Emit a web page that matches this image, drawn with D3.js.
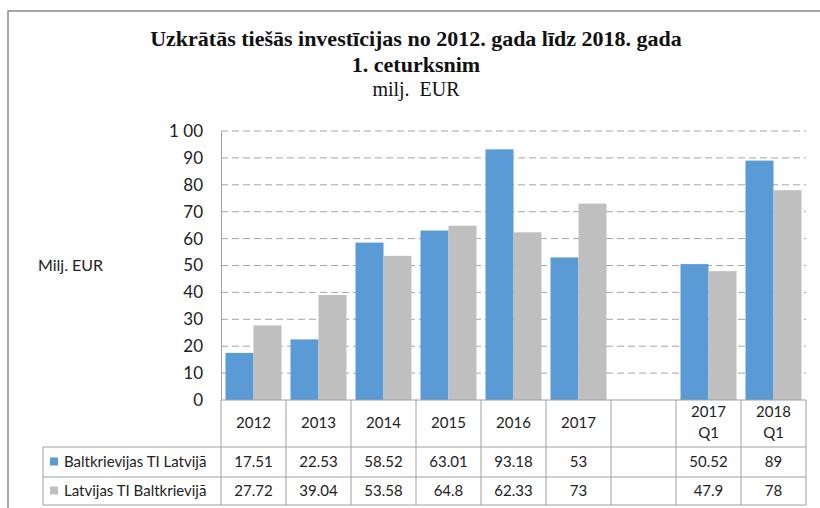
<!DOCTYPE html>
<html>
<head>
<meta charset="utf-8">
<script src="https://cdn.jsdelivr.net/npm/d3@7"></script>
<style>
  body { margin: 0; background: #fff; }
</style>
</head>
<body>
<div id="chart"></div>
<script>
var categories = ["2012", "2013", "2014", "2015", "2016", "2017", "", "2017 Q1", "2018 Q1"];
var seriesNames = ["Baltkrievijas TI Latvijā", "Latvijas TI Baltkrievijā"];
var baltValues = [17.51, 22.53, 58.52, 63.01, 93.18, 53, null, 50.52, 89];
var latvValues = [27.72, 39.04, 53.58, 64.8, 62.33, 73, null, 47.9, 78];
var yTicks = [0, 10, 20, 30, 40, 50, 60, 70, 80, 90, 100];
var yTickLabels = ["0", "10", "20", "30", "40", "50", "60", "70", "80", "90", "1 00"];

var colors = ["#5b9bd5", "#bfbfbf"];
var width = 820, height = 508;
var plotLeft = 221, plotRight = 806, plotTop = 131, plotBottom = 400;
var legendLeft = 43;
var rowTops = [400, 447, 477, 505];
var sans = "Lato, 'Open Sans', sans-serif";
var serif = "'Liberation Serif', 'Times New Roman', serif";

var svg = d3.select("#chart").append("svg")
    .attr("width", width)
    .attr("height", height);

// outer frame
svg.append("rect")
    .attr("x", 8).attr("y", 11)
    .attr("width", 830).attr("height", 520)
    .attr("fill", "none")
    .attr("stroke", "#8c8c8c")
    .attr("stroke-width", 1.5);

// titles
var titles = [
    {t: "Uzkrātās tiešās investīcijas no 2012. gada līdz 2018. gada", y: 46, w: "bold", s: 22},
    {t: "1. ceturksnim", y: 72, w: "bold", s: 22},
    {t: "milj.  EUR", y: 96, w: "normal", s: 20}
];
svg.selectAll("text.title")
    .data(titles)
    .enter().append("text")
    .attr("class", "title")
    .attr("x", 416)
    .attr("y", function(d) { return d.y; })
    .attr("text-anchor", "middle")
    .attr("font-family", serif)
    .attr("font-weight", function(d) { return d.w; })
    .attr("font-size", function(d) { return d.s; })
    .attr("fill", "#111")
    .style("white-space", "pre")
    .text(function(d) { return d.t; });

var y = d3.scaleLinear().domain([0, 100]).range([plotBottom, plotTop]);
var x0 = d3.scaleBand().domain(categories).range([plotLeft, plotRight]).padding(0);
var x1 = d3.scaleBand().domain([0, 1]).range([4.5, x0.bandwidth() - 4.5]).padding(0);

// gridlines
svg.append("g")
    .selectAll("line")
    .data(yTicks.slice(1))
    .enter().append("line")
    .attr("x1", plotLeft).attr("x2", plotRight)
    .attr("y1", function(d) { return y(d); })
    .attr("y2", function(d) { return y(d); })
    .attr("stroke", "#a6a6a6")
    .attr("stroke-width", 1)
    .attr("stroke-dasharray", "7,4");

// y axis
var yAxis = d3.axisLeft(y)
    .tickValues(yTicks)
    .tickSize(0)
    .tickPadding(18)
    .tickFormat(function(d, i) { return yTickLabels[i]; });
var gy = svg.append("g")
    .attr("transform", "translate(" + plotLeft + ",0)")
    .call(yAxis);
gy.select(".domain").attr("stroke", "#a0a0a0");
gy.selectAll("text")
    .attr("font-family", sans)
    .attr("font-size", 17)
    .attr("fill", "#222");

svg.append("text")
    .attr("x", 38).attr("y", 271)
    .attr("font-family", sans)
    .attr("font-size", 16)
    .attr("fill", "#222")
    .text("Milj. EUR");

// bars
var barData = [];
for (var i = 0; i < categories.length; i++) {
    barData.push({cat: categories[i], s: 0, v: baltValues[i]});
    barData.push({cat: categories[i], s: 1, v: latvValues[i]});
}
svg.append("g")
    .selectAll("rect")
    .data(barData.filter(function(d) { return d.v != null; }))
    .enter().append("rect")
    .attr("x", function(d) { return x0(d.cat) + x1(d.s); })
    .attr("width", x1.bandwidth())
    .attr("y", function(d) { return y(d.v); })
    .attr("height", function(d) { return plotBottom - y(d.v); })
    .attr("fill", function(d) { return colors[d.s]; });

// data table
var table = svg.append("g")
    .attr("stroke", "#a0a0a0")
    .attr("stroke-width", 1);
// horizontal lines
table.append("line")
    .attr("x1", plotLeft).attr("x2", plotRight)
    .attr("y1", rowTops[0]).attr("y2", rowTops[0]);
table.selectAll("line.h")
    .data(rowTops.slice(1))
    .enter().append("line")
    .attr("class", "h")
    .attr("x1", legendLeft).attr("x2", plotRight)
    .attr("y1", function(d) { return d; })
    .attr("y2", function(d) { return d; });
// vertical lines
var bounds = categories.map(function(c) { return x0(c); }).concat([plotRight]);
table.selectAll("line.v")
    .data(bounds)
    .enter().append("line")
    .attr("class", "v")
    .attr("x1", function(d) { return d; })
    .attr("x2", function(d) { return d; })
    .attr("y1", rowTops[0]).attr("y2", rowTops[3]);
table.append("line")
    .attr("x1", legendLeft).attr("x2", legendLeft)
    .attr("y1", rowTops[1]).attr("y2", rowTops[3]);

// header labels
var header = svg.append("g")
    .attr("font-family", sans)
    .attr("font-size", 15)
    .attr("fill", "#222")
    .attr("text-anchor", "middle");
categories.forEach(function(c) {
    var parts = c.split(" ");
    var cx = x0(c) + x0.bandwidth() / 2;
    if (parts.length == 1) {
        header.append("text").attr("x", cx).attr("y", 428).text(c);
    } else {
        header.append("text").attr("x", cx).attr("y", 417).text(parts[0]);
        header.append("text").attr("x", cx).attr("y", 438).text(parts[1]);
    }
});

// value rows
var rows = [baltValues, latvValues];
rows.forEach(function(vals, r) {
    var cy = (rowTops[r + 1] + rowTops[r + 2]) / 2;
    svg.append("rect")
        .attr("x", 50).attr("y", cy - 4.5)
        .attr("width", 8).attr("height", 8)
        .attr("fill", colors[r]);
    svg.append("text")
        .attr("x", 64).attr("y", cy + 5)
        .attr("font-family", sans)
        .attr("font-size", 15)
        .attr("fill", "#222")
        .text(seriesNames[r]);
    svg.append("g")
        .selectAll("text")
        .data(vals)
        .enter().append("text")
        .attr("x", function(d, i) { return x0(categories[i]) + x0.bandwidth() / 2; })
        .attr("y", cy + 5)
        .attr("text-anchor", "middle")
        .attr("font-family", sans)
        .attr("font-size", 15)
        .attr("fill", "#222")
        .text(function(d) { return d == null ? "" : d; });
});
</script>
</body>
</html>
